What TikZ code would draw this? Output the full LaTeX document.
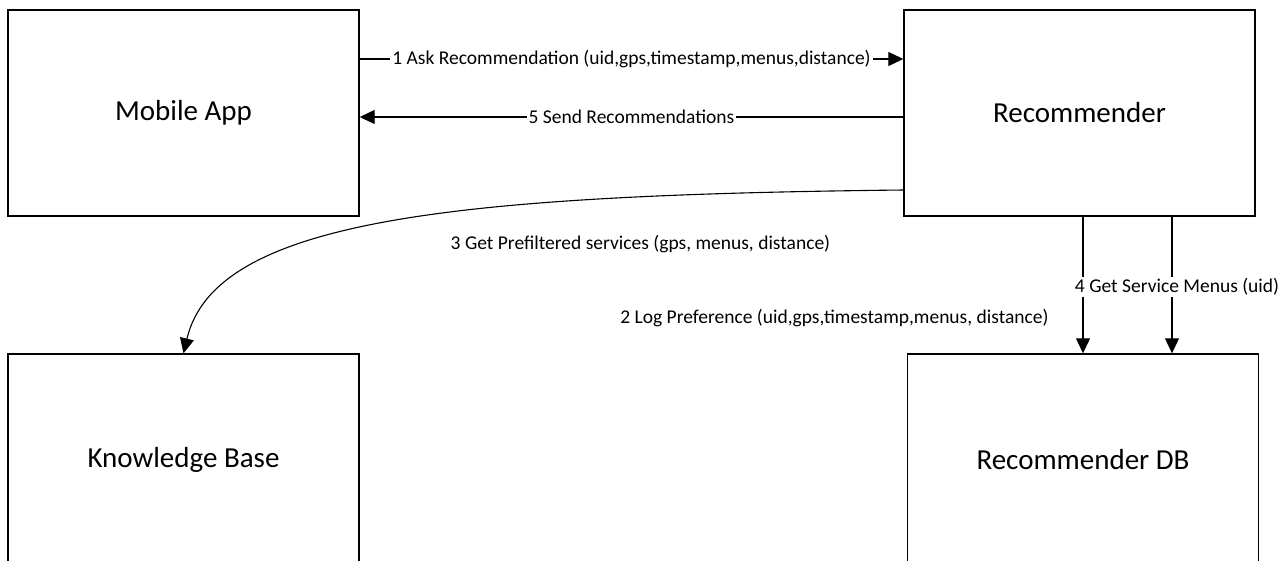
\documentclass[tikz,border=0pt]{standalone}
\usepackage{fontspec}
\setmainfont{Carlito}
\usetikzlibrary{arrows.meta}
\begin{document}
\begin{tikzpicture}[x=1pt,y=-1pt]
\tikzset{
  block/.style={draw, line width=1.4pt, minimum width=351pt, minimum height=206pt,
    inner sep=0pt, font=\fontsize{29}{33}\selectfont},
  flow/.style={line width=1.1pt, -{Triangle[length=15pt,width=14pt]}},
  lbl/.style={fill=white, inner sep=2pt, font=\fontsize{19.5}{23}\selectfont},
}
\useasboundingbox (0,0) rectangle (1287,560);

% components
\node[block] (mob) at (183.5,113) {Mobile App};
\node[block] (rec) at (1079.5,113) {Recommender};
\node[block, minimum height=212pt] (kb) at (183.5,460) {Knowledge Base};
\node[block, minimum height=212pt] (rdb) at (1083,460) {Recommender DB};

% request / response between app and recommender
\draw[flow] ([yshift=54pt]mob.east) -- node[lbl]{1 Ask Recommendation (uid,gps,timestamp,menus,distance)} ([yshift=54pt]rec.west);
\draw[flow] ([yshift=-4pt]rec.west) -- node[lbl]{5 Send Recommendations} ([yshift=-4pt]mob.east);

% query to the knowledge base
\draw[flow] ([yshift=-77pt]rec.west) .. controls (450,195) and (215,220) .. (kb.north)
  node[lbl, pos=0.2, xshift=-17pt, yshift=-48pt]{3 Get Prefiltered services (gps, menus, distance)};

% calls to the recommender database
\coordinate (d4) at ([xshift=89pt]rdb.north);
\draw[flow] (rec.south -| rdb.north) -- node[lbl, pos=0.74, left=32pt]{2 Log Preference (uid,gps,timestamp,menus, distance)} (rdb.north);
\draw[flow] (d4 |- rec.south) -- node[lbl, xshift=5pt, yshift=-2pt]{4 Get Service Menus (uid)} (d4);
\end{tikzpicture}
\end{document}
